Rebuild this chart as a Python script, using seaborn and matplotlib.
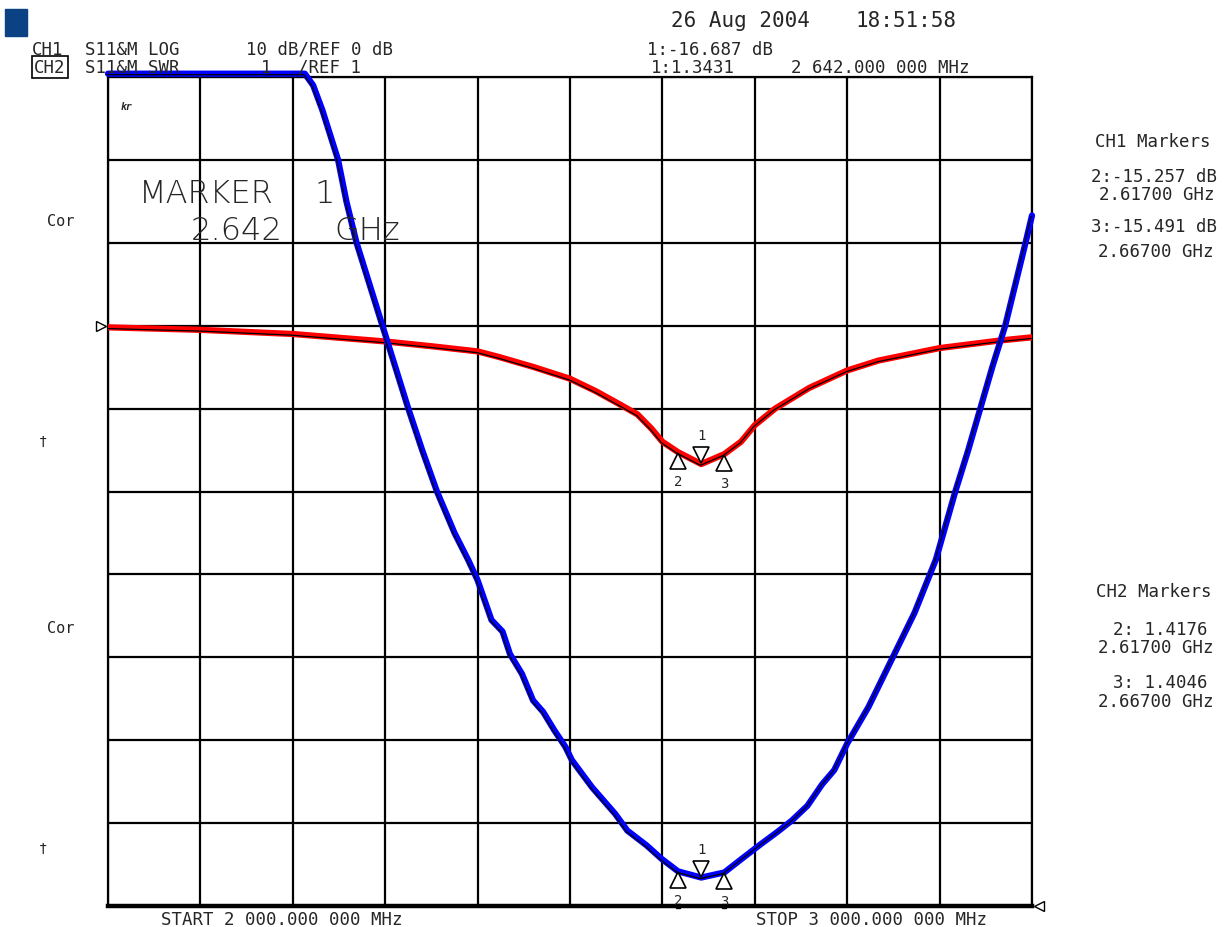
import numpy as np
import pandas as pd
import matplotlib
matplotlib.use("Agg")
import matplotlib.pyplot as plt
import matplotlib.transforms as mtransforms
from matplotlib.patches import Rectangle
import seaborn as sns

# ---------------- data ----------------
# CH1: S11 log magnitude (dB) vs frequency (MHz)
ch1_freq = [2000, 2100, 2200, 2244, 2300, 2352, 2400, 2424, 2461, 2500, 2528, 2554,
            2573, 2588, 2600, 2617, 2642, 2667, 2685, 2700, 2722, 2759, 2800, 2834,
            2900, 2964, 3000]
ch1_db = [-0.2, -0.5, -1.0, -1.4, -1.9, -2.5, -3.1, -3.8, -5.0, -6.4, -7.9, -9.5,
          -10.7, -12.4, -14.0, -15.26, -16.69, -15.49, -14.0, -12.0, -10.0, -7.5, -5.4, -4.2,
          -2.7, -1.8, -1.4]

# CH2: S11 SWR vs frequency (MHz)
ch2_freq = [2000, 2100, 2213, 2222, 2232, 2249, 2258, 2269, 2283, 2297, 2311, 2325,
            2340, 2356, 2375, 2390, 2400, 2415, 2427, 2435, 2448, 2460, 2471, 2483,
            2495, 2502, 2524, 2549, 2562, 2583, 2599, 2617, 2642, 2667, 2686, 2707,
            2724, 2740, 2757, 2773, 2786, 2800, 2823, 2848, 2873, 2896, 2917, 2931,
            2944, 2957, 2971, 2982, 2993, 3000]
ch2_swr = [11.04, 11.04, 11.04, 10.9, 10.6, 10.0, 9.5, 9.0, 8.5, 8.0, 7.5, 7.0,
           6.5, 6.0, 5.5, 5.17, 4.93, 4.45, 4.31, 4.04, 3.80, 3.48, 3.34, 3.12,
           2.92, 2.76, 2.43, 2.11, 1.91, 1.73, 1.57, 1.4176, 1.3431, 1.4046, 1.57, 1.75,
           1.89, 2.03, 2.21, 2.47, 2.64, 2.96, 3.40, 3.97, 4.54, 5.18, 6.0, 6.5,
           7.0, 7.5, 8.0, 8.5, 9.0, 9.33]

marker_freq = [2642, 2617, 2667]
marker_db = [-16.687, -15.257, -15.491]
marker_swr = [1.3431, 1.4176, 1.4046]
marker_ids = ["1", "2", "3"]

x_ticks = list(range(2000, 3001, 100))
db_ticks = list(range(-70, 31, 10))

# ---------------- figure ----------------
sns.set_style("white")
plt.rcParams['font.family'] = ['DejaVu Sans Mono', 'DejaVu Sans']

W, H = 1229, 928
fig = plt.figure(figsize=(W / 100, H / 100), dpi=100)
fig.patch.set_facecolor("white")
ax = fig.add_axes([108 / W, 1 - 907 / H, (1032 - 108) / W, (907 - 78) / H])
ax.set_xlim(2000, 3000)
ax.set_ylim(-70, 30)
ax.set_xticks(x_ticks)
ax.set_yticks(db_ticks)
ax.grid(True, color="black", linewidth=1.6)
ax.tick_params(length=0, labelbottom=False, labelleft=False)
for s in ax.spines.values():
    s.set_color("black")
    s.set_linewidth(1.6)
ax.spines["bottom"].set_linewidth(3.2)

ax2 = ax.twinx()
ax2.set_ylim(1, 11)
ax2.set_yticks([])
ax2.tick_params(length=0, labelright=False)
for s in ax2.spines.values():
    s.set_visible(False)

df1 = pd.DataFrame({"f": ch1_freq, "v": ch1_db})
df2 = pd.DataFrame({"f": ch2_freq, "v": ch2_swr})

sns.lineplot(data=df1, x="f", y="v", ax=ax, color="#ff0000", linewidth=4.5,
             sort=False, zorder=3)
off1 = mtransforms.offset_copy(ax.transData, fig=fig, x=-0.8, y=-1.2, units="dots")
ax.plot(ch1_freq, ch1_db, color="black", linewidth=0.9, transform=off1, zorder=4)

sns.lineplot(data=df2, x="f", y="v", ax=ax2, color="#0000ff", linewidth=4.5,
             sort=False, zorder=3)
off2 = mtransforms.offset_copy(ax2.transData, fig=fig, x=-1.0, y=-1.0, units="dots")
ax2.plot(ch2_freq, ch2_swr, color="black", linewidth=0.9, transform=off2, zorder=4)
for l in ax2.get_lines():
    l.set_clip_on(False)
ax.set_xlabel(""); ax.set_ylabel("")
ax2.set_xlabel(""); ax2.set_ylabel("")


def draw_markers(axis, ys):
    for f, y, mid in zip(marker_freq, ys, marker_ids):
        if mid == "1":
            tr = mtransforms.offset_copy(axis.transData, fig=fig, x=0, y=9, units="dots")
            axis.plot([f], [y], marker="v", ms=11, mfc="white", mec="black", mew=1.2,
                      transform=tr, zorder=6, clip_on=False)
            axis.annotate(mid, (f, y), xytext=(0, 22), textcoords="offset pixels",
                          ha="center", va="bottom", fontsize=10, zorder=6)
        else:
            tr = mtransforms.offset_copy(axis.transData, fig=fig, x=0, y=-9, units="dots")
            axis.plot([f], [y], marker="^", ms=11, mfc="white", mec="black", mew=1.2,
                      transform=tr, zorder=6, clip_on=False)
            axis.annotate(mid, (f, y), xytext=(0, -22), textcoords="offset pixels",
                          ha="center", va="top", fontsize=10, zorder=6)


draw_markers(ax, marker_db)
draw_markers(ax2, marker_swr)

# marker position ticks on bottom axis
ax2.plot(marker_freq[1:], [1, 1], marker="s", ms=3.5, color="black", ls="none",
         clip_on=False, zorder=7)

# reference markers
trl = mtransforms.offset_copy(ax.transData, fig=fig, x=-7, y=0, units="dots")
ax.plot([2000], [0], marker=">", ms=7, mfc="white", mec="black", mew=1,
        transform=trl, clip_on=False, zorder=7)
trr = mtransforms.offset_copy(ax2.transData, fig=fig, x=7, y=0, units="dots")
ax2.plot([3000], [1], marker="<", ms=7, mfc="white", mec="black", mew=1,
         transform=trr, clip_on=False, zorder=7)


# ---------------- annotation text ----------------
def ctxt(x, y, s, size=12.5, **kw):
    """text centred horizontally at pixel x, baseline at pixel y"""
    return fig.text(x / W, 1 - y / H, s, fontsize=size, va="baseline", ha="center", **kw)


fig.patches.append(Rectangle((5 / W, 1 - 37 / H), 22 / W, 27 / H,
                             transform=fig.transFigure, color="#0a4283"))

ctxt(740, 27, "26 Aug 2004", size=15)
ctxt(906, 27, "18:51:58", size=15)

ctxt(48, 55, "CH1")
ctxt(132, 55, "S11&M LOG")
ctxt(320, 55, "10 dB/REF 0 dB")
ctxt(50, 73, "CH2", bbox=dict(boxstyle="square,pad=0.12", fc="white", ec="black", lw=1.2))
ctxt(132, 73, "S11&M SWR")
ctxt(266, 73, "1")
ctxt(330, 73, "/REF 1")

ctxt(710, 55, "1:-16.687 dB")
ctxt(693, 73, "1:1.3431")
ctxt(880, 73, "2 642.000 000 MHz")

ctxt(1153, 147, "CH1 Markers")
ctxt(1154, 182, "2:-15.257 dB")
ctxt(1157, 200, "2.61700 GHz")
ctxt(1154, 232, "3:-15.491 dB")
ctxt(1156, 257, "2.66700 GHz")

ctxt(1154, 597, "CH2 Markers")
ctxt(1160, 635, "2: 1.4176")
ctxt(1156, 653, "2.61700 GHz")
ctxt(1160, 688, "3: 1.4046")
ctxt(1156, 707, "2.66700 GHz")

ctxt(61, 226, "Cor", size=11)
ctxt(43, 446, "\u2020", size=10)
ctxt(61, 633, "Cor", size=11)
ctxt(43, 853, "\u2020", size=10)

ctxt(126, 110, "kr", size=7, fontweight="bold", style="italic")

big = dict(size=23, family="DejaVu Sans", fontweight="light")
ctxt(206, 203, "MARKER", **big)
ctxt(325, 203, "1", **big)
ctxt(237, 240, "2.642", **big)
ctxt(367, 240, "GHz", **big)

ctxt(282, 925, "START 2 000.000 000 MHz")
ctxt(872, 925, "STOP 3 000.000 000 MHz")

fig.savefig("out.png", dpi=100, facecolor="white")
